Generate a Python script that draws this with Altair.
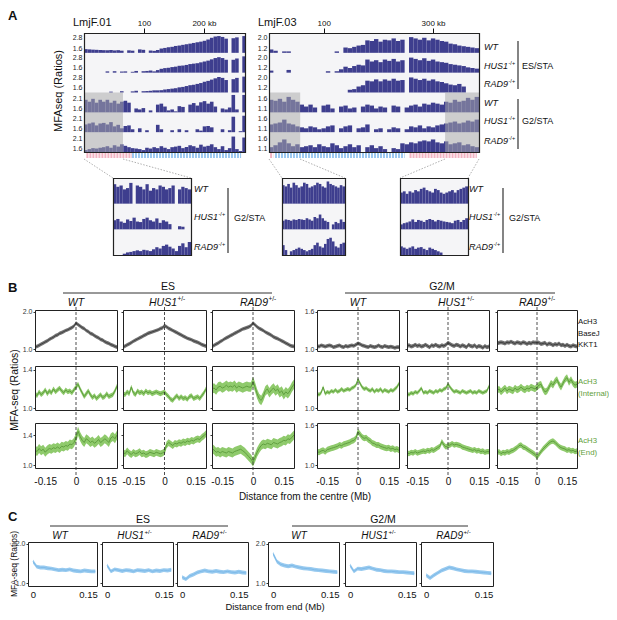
import altair as alt
import pandas as pd

FONT = "Liberation Sans"
CW, CH = 601, 604
MARGIN = 8

# ---------------- Panel A data (MFA-seq ratios per genomic bin) ----------------
A01_BIN_KB = 6
A01_ES_WT = [1.48,1.45,1.42,1.40,1.38, 1.36,1.35,1.38,1.33,1.36, 1.30,1.05,1.34,1.30,1.05, 1.45,1.40,1.05,1.32,1.28,
             1.38,1.55,1.62,1.70,1.75, 1.85,1.90,1.98,2.05,2.12, 2.20,2.28,2.35,2.45,2.60, 2.80,2.95,3.00,2.90,2.70,
             1.05,2.75,2.85,1.05,3.00]
A01_ES_HUS1 = [1.05,1.05,1.05,1.05,1.05, 1.05,1.20,1.05,1.22,1.05, 1.18,1.20,1.05,1.15,1.25, 1.05,1.22,1.25,1.30,1.20,
               1.35,1.50,1.58,1.62,1.70, 1.75,1.85,1.88,1.95,2.05, 2.10,2.15,2.25,2.35,2.45, 2.60,2.75,2.85,2.75,2.55,
               1.05,2.55,2.70,1.05,2.95]
A01_ES_RAD9 = [1.05,1.05,1.05,1.05,1.05, 1.05,1.05,1.15,1.05,1.05, 1.20,1.05,1.05,1.18,1.25, 1.05,1.20,1.22,1.25,1.30,
               1.30,1.32,1.40,1.45,1.50, 1.55,1.65,1.70,1.80,1.90, 1.95,2.05,2.15,2.30,2.40, 2.55,2.70,2.85,2.75,2.50,
               1.05,2.60,2.75,1.05,2.90]
A01_G2_WT = [2.05,1.95,2.10,1.90,2.05, 1.95,2.05,1.90,2.00,1.85, 1.95,2.00,1.90,1.40,1.60, 1.55,1.62,1.40,1.50,1.40,
             1.80,1.85,1.70,1.50,1.55, 1.45,1.72,1.68,1.40,1.80, 1.88,1.75,1.92,1.98,1.85, 1.95,1.70,1.40,1.60,1.55,
             1.65,2.30,1.55,1.40,2.30]
A01_G2_HUS1 = [1.80,1.85,1.90,1.75,1.85, 1.88,1.80,1.92,1.70,1.78, 1.60,1.72,1.75,1.55,1.40, 1.60,1.40,1.50,1.40,1.40,
               1.78,1.55,1.40,1.40,1.50, 1.40,1.55,1.40,1.50,1.40, 1.40,1.55,1.48,1.70,1.72, 1.65,1.40,1.40,1.55,1.40,
               1.50,2.20,1.40,1.45,2.25]
A01_G2_RAD9 = [1.50,1.55,1.60,1.58,1.62, 1.65,1.70,1.62,1.75,1.68, 1.80,1.72,1.65,1.60,1.58, 1.55,1.50,1.62,1.58,1.65,
               1.60,1.70,1.62,1.55,1.65, 1.68,1.72,1.60,1.66,1.75, 1.70,1.62,1.78,1.68,1.72, 1.80,1.65,1.55,1.70,1.50,
               1.60,2.20,1.55,1.45,2.15]

A03_BIN_KB = 8
A03_ES_WT = [1.10,1.00,0.84,0.95,0.95,0.84, 0.84,0.84,0.84,0.84,0.84,0.84, 0.84,0.84,0.84,0.95,0.84,1.25,
             1.20,1.30,1.40,1.45,1.80,1.75, 1.90,1.70,1.85,1.80,1.95,1.75, 1.85,0.84,2.05,1.95,1.85,2.00,
             1.80,1.95,1.85,1.75,1.70,1.55, 1.50,1.40,1.35,1.30,1.25,1.20]
A03_ES_HUS1 = [1.00,0.84,0.84,0.84,1.05,0.84, 0.84,0.84,0.84,0.84,0.84,0.84, 0.84,0.95,0.84,0.95,1.10,1.30,
               1.20,1.35,1.45,1.40,1.85,1.70, 1.80,1.65,1.85,1.75,1.90,1.70, 1.80,0.84,2.00,1.90,1.80,1.95,
               1.75,1.85,1.70,1.65,1.60,1.50, 1.45,1.40,1.35,1.25,1.20,1.15]
A03_ES_RAD9 = [0.84,0.84,0.84,0.84,0.84,0.84, 0.84,0.84,0.84,0.84,0.84,0.84, 0.84,0.84,0.84,0.84,0.84,0.84,
               1.05,1.10,1.30,1.40,1.75,1.70, 1.85,1.70,1.85,1.75,1.90,1.75, 1.80,0.84,2.00,1.90,1.80,1.90,
               1.75,1.85,1.70,1.65,1.55,1.45, 1.40,1.50,1.30,0.84,0.84,0.84]
A03_G2_WT = [1.55,1.50,1.60,1.45,1.70,1.55, 1.45,1.30,1.20,1.30,1.15,0.90, 1.25,1.30,1.10,0.90,1.20,1.25,
             1.10,1.15,0.90,1.20,1.30,1.25, 1.10,1.20,1.15,0.90,1.25,1.20, 0.90,1.15,1.25,1.30,1.20,1.35,
             1.30,1.40,1.35,1.30,1.45,1.40, 1.55,1.45,1.50,1.65,1.55,1.70]
A03_G2_HUS1 = [1.30,1.35,1.40,1.55,1.35,1.30, 1.20,1.15,1.10,1.20,1.15,1.05, 1.10,1.20,1.25,0.90,1.10,1.20,
               1.25,0.90,1.10,1.15,1.30,0.90, 1.05,1.10,0.90,1.05,1.15,1.10, 0.90,1.05,1.20,1.15,1.25,1.10,
               1.20,1.15,1.25,1.30,1.35,1.40, 1.45,1.35,1.40,1.50,1.45,1.55]
A03_G2_RAD9 = [1.15,1.25,1.40,1.55,1.35,1.20, 1.30,1.15,1.20,1.25,1.15,1.30, 1.20,1.15,1.35,1.25,1.10,1.20,
               1.30,1.15,1.25,0.90,1.15,1.25, 1.10,1.20,1.05,0.90,1.10,1.05, 1.35,1.30,1.40,1.35,1.45,1.50,
               1.45,1.55,1.40,1.35,1.45,1.30, 1.35,1.40,1.25,1.30,1.20,1.15]

# shaded (zoomed) regions, kb
GRAY_01 = [(0, 65)]
GRAY_03 = [(0, 57), (322, 384)]
# strand segments below tracks (kb start, kb end, strand)
STRAND_01 = [(4, 80, "+"), (80, 262, "-")]
STRAND_03 = [(2, 8, "+"), (11, 248, "-"), (257, 380, "+")]

# insets (G2/STA zoom of shaded regions)
INSET1_KB = (0, 65)
INSET1_WT = [2.15,2.05,2.10,1.95,2.00, 2.20,1.40,2.10,2.05,1.95, 2.15,1.90,2.00,1.95,2.10, 2.05,1.95,2.00,2.10,1.40, 1.95,2.05,2.00,1.95]
INSET1_HUS1 = [1.75,1.80,1.70,1.65,1.78, 1.72,1.85,1.70,1.68,1.80, 1.85,1.75,1.70,1.82,1.65, 1.75,1.70,1.60,1.40,1.40, 1.52,1.50,1.40,1.40]
INSET1_RAD9 = [1.40,1.40,1.40,1.45,1.50, 1.52,1.55,1.58,1.55,1.60, 1.58,1.55,1.62,1.70,1.65, 1.75,1.80,1.72,1.65,1.55, 1.75,1.85,1.70,1.90]
INSET2_KB = (0, 57)
INSET2_WT = [1.65,1.60,1.70,1.55,1.75, 1.65,1.55,1.60,1.75,1.70, 1.55,1.60,1.65,1.75,1.70, 1.60,1.55,1.80,1.70,1.65, 1.60,1.55,1.65,1.60]
INSET2_HUS1 = [1.25,1.30,1.28,1.25,1.30, 1.28,1.32,1.30,1.28,1.35, 1.30,1.25,1.40,1.35,1.50, 1.35,1.25,1.20,0.90,1.10, 1.20,1.15,1.30,1.20]
INSET2_RAD9 = [1.30,1.10,0.90,1.05,1.10, 1.15,1.20,1.15,1.10,1.05, 1.10,1.15,1.30,1.40,1.25, 1.20,1.35,1.55,1.60,1.45, 1.25,1.20,1.35,1.40]
INSET3_KB = (322, 384)
INSET3_WT = [1.35,1.40,1.30,1.40,1.35, 1.45,1.40,1.50,1.55,1.45, 1.40,1.35,1.50,1.45,1.35, 1.30,1.35,1.40,1.45,1.35, 1.45,1.50,1.55,1.60]
INSET3_HUS1 = [1.10,1.15,1.18,1.22,1.30, 1.20,1.28,1.25,1.20,1.28, 1.32,1.28,1.22,1.28,1.25, 1.22,1.20,1.18,1.15,1.25, 1.28,1.20,1.28,1.35]
INSET3_RAD9 = [1.25,1.20,1.15,1.20,1.25, 1.15,1.20,1.22,1.15,1.10, 1.20,1.15,1.10,1.05,1.00, 0.90,0.90,0.90,0.90,0.90, 0.90,0.90,0.90,0.90]

# ---------------- Panel B data ----------------
XB = [-0.20,-0.19,-0.18,-0.17,-0.16,-0.15,-0.14,-0.13,-0.12,-0.11,-0.10,-0.09,-0.08,-0.07,-0.06,-0.05,-0.04,-0.03,-0.02,-0.01,
      0.00,0.01,0.02,0.03,0.04,0.05,0.06,0.07,0.08,0.09,0.10,0.11,0.12,0.13,0.14,0.15,0.16,0.17,0.18,0.19,0.20]
B_R1_ES_WT = [1.05,1.07,1.10,1.13,1.16,1.19,1.22,1.26,1.29,1.32, 1.36,1.38,1.42,1.44,1.47,1.50,1.52,1.55,1.58,1.62, 1.70,
              1.66,1.62,1.58,1.55,1.50,1.47,1.42,1.40,1.36,1.33, 1.30,1.26,1.24,1.20,1.17,1.15,1.12,1.10,1.07,1.05]
B_R1_ES_HUS1 = [1.05,1.08,1.11,1.14,1.17,1.21,1.24,1.27,1.30,1.33, 1.36,1.39,1.42,1.44,1.46,1.48,1.50,1.52,1.55,1.57, 1.63,
                1.60,1.56,1.53,1.50,1.47,1.44,1.41,1.38,1.35,1.32, 1.29,1.27,1.25,1.22,1.20,1.18,1.15,1.12,1.10,1.08]
B_R1_ES_RAD9 = [1.07,1.10,1.13,1.16,1.20,1.23,1.27,1.30,1.33,1.36, 1.39,1.42,1.45,1.48,1.51,1.54,1.56,1.58,1.60,1.63, 1.70,
                1.65,1.60,1.56,1.53,1.50,1.46,1.43,1.40,1.37,1.33, 1.30,1.28,1.25,1.22,1.19,1.16,1.13,1.10,1.08,1.07]
B_R1_G2_WT = [1.05,1.04,1.06,1.05,1.04,1.05,1.06,1.05,1.03,1.04, 1.05,1.06,1.04,1.03,1.05,1.04,1.05,1.06,1.05,1.07, 1.09,
              1.08,1.06,1.05,1.04,1.03,1.05,1.04,1.03,1.04,1.06, 1.04,1.03,1.05,1.04,1.03,1.04,1.03,1.02,1.03,1.03]
B_R1_G2_HUS1 = [1.05,1.06,1.04,1.05,1.07,1.05,1.06,1.04,1.05,1.07, 1.05,1.03,1.06,1.05,1.07,1.05,1.04,1.06,1.05,1.07, 1.10,
                1.08,1.06,1.05,1.07,1.06,1.04,1.06,1.05,1.03,1.07, 1.05,1.04,1.06,1.03,1.05,1.04,1.02,1.05,1.03,1.04]
B_R1_G2_RAD9 = [1.09,1.10,1.11,1.10,1.09,1.11,1.10,1.12,1.10,1.09, 1.11,1.10,1.09,1.11,1.10,1.08,1.10,1.09,1.11,1.10, 1.11,
                1.10,1.08,1.09,1.10,1.07,1.09,1.08,1.06,1.08,1.07, 1.09,1.06,1.07,1.05,1.07,1.05,1.04,1.06,1.05,1.04]
B_R2_ES_WT = [1.15,1.13,1.17,1.14,1.16,1.19,1.15,1.18,1.16,1.20, 1.17,1.19,1.21,1.18,1.16,1.19,1.17,1.18,1.16,1.19, 1.22,
              1.25,1.20,1.16,1.12,1.15,1.18,1.14,1.11,1.13,1.10, 1.12,1.14,1.11,1.12,1.15,1.12,1.13,1.14,1.18,1.23]
B_R2_ES_HUS1 = [1.15,1.14,1.17,1.15,1.22,1.16,1.14,1.18,1.16,1.17, 1.15,1.18,1.16,1.17,1.15,1.16,1.17,1.16,1.15,1.16, 1.17,
                1.14,1.12,1.09,1.08,1.11,1.13,1.10,1.12,1.10,1.11, 1.09,1.12,1.13,1.10,1.11,1.12,1.10,1.13,1.16,1.20]
B_R2_ES_RAD9 = [1.20,1.21,1.19,1.22,1.23,1.21,1.22,1.24,1.22,1.23, 1.22,1.24,1.21,1.23,1.22,1.21,1.22,1.23,1.22,1.22, 1.28,
                1.22,1.15,1.10,1.08,1.12,1.18,1.20,1.16,1.19,1.21, 1.18,1.20,1.16,1.18,1.14,1.17,1.15,1.18,1.22,1.25]
B_R2_G2_WT = [1.15,1.14,1.16,1.22,1.15,1.17,1.16,1.18,1.17,1.19, 1.17,1.18,1.20,1.18,1.19,1.20,1.19,1.21,1.22,1.24, 1.30,
              1.26,1.22,1.20,1.21,1.19,1.18,1.20,1.17,1.19,1.18, 1.20,1.17,1.19,1.18,1.17,1.19,1.18,1.20,1.22,1.26]
B_R2_G2_HUS1 = [1.15,1.14,1.16,1.15,1.17,1.16,1.18,1.21,1.16,1.17, 1.16,1.18,1.17,1.16,1.18,1.17,1.19,1.18,1.20,1.21, 1.25,
                1.22,1.19,1.17,1.18,1.17,1.16,1.18,1.17,1.16,1.17, 1.18,1.16,1.17,1.16,1.18,1.17,1.16,1.17,1.18,1.23]
B_R2_G2_RAD9 = [1.18,1.20,1.17,1.19,1.21,1.18,1.20,1.19,1.18,1.21, 1.19,1.20,1.22,1.20,1.19,1.21,1.20,1.22,1.21,1.20, 1.22,
                1.24,1.25,1.20,1.17,1.18,1.22,1.26,1.24,1.28,1.30, 1.25,1.22,1.26,1.30,1.32,1.27,1.30,1.26,1.24,1.25]
B_R3_ES_WT = [1.20,1.18,1.22,1.19,1.21,1.17,1.20,1.22,1.21,1.23, 1.22,1.24,1.22,1.25,1.24,1.26,1.25,1.28,1.27,1.30, 1.36,
              1.45,1.38,1.33,1.30,1.35,1.33,1.30,1.32,1.29,1.31, 1.34,1.30,1.32,1.35,1.33,1.30,1.36,1.38,1.35,1.40]
B_R3_ES_HUS1 = [1.17,1.15,1.19,1.16,1.14,1.17,1.15,1.16,1.18,1.15, 1.16,1.14,1.15,1.17,1.16,1.15,1.17,1.16,1.15,1.16, 1.18,
                1.27,1.30,1.28,1.26,1.29,1.28,1.30,1.29,1.31,1.30, 1.32,1.31,1.33,1.32,1.34,1.35,1.34,1.37,1.39,1.42]
B_R3_ES_RAD9 = [1.22,1.20,1.17,1.18,1.16,1.18,1.17,1.16,1.18,1.17, 1.16,1.18,1.19,1.20,1.21,1.19,1.17,1.14,1.11,1.08, 1.04,
                1.10,1.17,1.22,1.26,1.28,1.27,1.29,1.28,1.27,1.30, 1.29,1.28,1.30,1.31,1.33,1.32,1.35,1.34,1.37,1.40]
B_R3_G2_WT = [1.20,1.19,1.21,1.22,1.20,1.23,1.24,1.25,1.26,1.27, 1.28,1.30,1.29,1.31,1.32,1.33,1.34,1.36,1.37,1.40, 1.50,
              1.46,1.42,1.40,1.41,1.38,1.36,1.33,1.32,1.30,1.30, 1.28,1.27,1.26,1.25,1.26,1.24,1.25,1.23,1.24,1.22]
B_R3_G2_HUS1 = [1.18,1.17,1.19,1.18,1.20,1.18,1.19,1.20,1.21,1.20, 1.22,1.21,1.23,1.22,1.24,1.26,1.28,1.35,1.30,1.27, 1.29,
                1.30,1.32,1.30,1.31,1.30,1.29,1.27,1.26,1.25,1.24, 1.23,1.22,1.23,1.21,1.22,1.20,1.21,1.19,1.20,1.20]
B_R3_G2_RAD9 = [1.18,1.20,1.17,1.19,1.18,1.20,1.19,1.21,1.22,1.24, 1.26,1.29,1.30,1.27,1.26,1.24,1.22,1.20,1.18,1.16, 1.12,
                1.16,1.20,1.24,1.27,1.30,1.33,1.35,1.36,1.34,1.31, 1.28,1.26,1.25,1.24,1.22,1.23,1.21,1.22,1.20,1.21]
# half-width of the shaded confidence band for each panel (rows x [ES WT, HUS1, RAD9, G2 WT, HUS1, RAD9])
B_BAND = [[0.05, 0.05, 0.05, 0.03, 0.032, 0.032],
          [0.025, 0.025, 0.05, 0.02, 0.02, 0.035],
          [0.06, 0.045, 0.06, 0.045, 0.04, 0.04]]

# ---------------- Panel C data ----------------
XC = [0.00,0.01,0.02,0.03,0.04,0.05,0.06,0.07,0.08,0.09,0.10,0.11,0.12,0.13,0.14,0.15,0.16,0.17]
C_ES_WT = [1.55,1.42,1.40,1.40,1.38,1.37,1.35,1.33,1.34,1.33,1.35,1.32,1.31,1.30,1.32,1.31,1.30,1.30]
C_ES_HUS1 = [1.45,1.30,1.35,1.33,1.31,1.33,1.32,1.30,1.33,1.32,1.31,1.33,1.30,1.32,1.31,1.33,1.32,1.34]
C_ES_RAD9 = [1.15,1.10,1.18,1.22,1.27,1.30,1.32,1.30,1.29,1.31,1.29,1.28,1.30,1.28,1.27,1.29,1.27,1.26]
C_G2_WT = [1.75,1.55,1.48,1.45,1.43,1.45,1.42,1.40,1.38,1.37,1.36,1.34,1.33,1.32,1.31,1.30,1.29,1.28]
C_G2_HUS1 = [1.45,1.30,1.37,1.36,1.38,1.40,1.37,1.34,1.33,1.31,1.30,1.30,1.29,1.28,1.28,1.27,1.26,1.25]
C_G2_RAD9 = [1.20,1.13,1.20,1.26,1.32,1.36,1.40,1.38,1.35,1.33,1.31,1.30,1.30,1.29,1.28,1.27,1.26,1.25]
C_BAND = 0.05

# ---------------- styling ----------------
NAVY = "#3e3e8e"
TRACK_BG = "#f5f5f7"
GRAY_LINE, GRAY_BAND = "#3a3a3a", "#737373"
GREEN_LINE, GREEN_BAND = "#5a9a3a", "#8fca6c"
GREEN_TXT = "#5fa03c"
BLUE_LINE, BLUE_BAND = "#7ab8e8", "#98caef"
TXT = "#111111"

ONE = pd.DataFrame({"k": [0]})


def P(v):
    return v - MARGIN


def xscale(dom, a, b):
    return alt.Scale(domain=list(dom), range=[P(a), P(b)], nice=False, zero=False)


def yscale(dom, top, bottom):
    return alt.Scale(domain=list(dom), range=[P(bottom), P(top)], nice=False, zero=False, clamp=True)


def label(x, y, s, size=9, align="center", baseline="middle", color=TXT, style="normal", weight="normal", angle=0):
    kw = dict(text=s, font=FONT, fontSize=size, align=align, baseline=baseline, color=color,
              fontStyle=style, fontWeight=weight)
    if angle:
        kw["angle"] = angle
    return alt.Chart(ONE).mark_text(**kw).encode(x=alt.value(P(x)), y=alt.value(P(y)))


def suplabel(x_end, y, main, sup, size, color=TXT):
    return [label(x_end, y, main, size, align="right", style="italic", color=color),
            label(x_end + 0.5, y - size * 0.38, sup, size * 0.62, align="left", color=color)]


def rule(x, y, x2, y2, color=TXT, width=1.0, dash=None):
    kw = dict(color=color, strokeWidth=width)
    if dash:
        kw["strokeDash"] = dash
    return alt.Chart(ONE).mark_rule(**kw).encode(
        x=alt.value(P(x)), y=alt.value(P(y)), x2=alt.value(P(x2)), y2=alt.value(P(y2)))


def box(x0, y0, x1, y1, fill=None, stroke=None, sw=1.0):
    kw = {}
    if fill:
        kw["fill"] = fill
    else:
        kw["fillOpacity"] = 0
    if stroke:
        kw["stroke"] = stroke
        kw["strokeWidth"] = sw
    return alt.Chart(ONE).mark_rect(**kw).encode(
        x=alt.value(P(x0)), y=alt.value(P(y0)), x2=alt.value(P(x1)), y2=alt.value(P(y1)))


def track(vals, start_kb, bin_kb, xdom, xa, xb, ydom, ya, yb, ylab=None, top=None):
    s = [start_kb + i * bin_kb for i in range(len(vals))]
    df = pd.DataFrame({"s": s, "e": [v + bin_kb for v in s], "v": vals})
    if ylab:
        yax = alt.Axis(orient="left", values=ylab, offset=-P(xa), ticks=False, domain=False, grid=False,
                       labelFont=FONT, labelFontSize=7, labelColor="#222", labelPadding=2, format=".1f",
                       title=None, labelOverlap=False)
    else:
        yax = None
    return alt.Chart(df).mark_rect(color=NAVY).encode(
        x=alt.X("s:Q", scale=xscale(xdom, xa, xb), axis=top),
        x2="e",
        y=alt.Y("v:Q", scale=yscale(ydom, ya, yb), axis=yax),
        y2=alt.datum(ydom[0]),
    )


def top_axis(values, unit_val, y):
    return alt.Axis(orient="top", values=values, offset=-P(y), tickSize=5, tickColor=TXT, tickWidth=1,
                    domain=False, grid=False, labelFont=FONT, labelFontSize=8, labelColor=TXT, labelPadding=1,
                    format="d", title=None, labelFlush=False, labelOverlap=False,
                    labelExpr=f"datum.value == {unit_val} ? datum.label + ' kb' : datum.label")


def overlay(regions, xdom, xa, xb, ya, yb):
    df = pd.DataFrame({"s": [r[0] for r in regions], "e": [r[1] for r in regions]})
    return alt.Chart(df).mark_rect(color="#a8a8a8", opacity=0.52).encode(
        x=alt.X("s:Q", scale=xscale(xdom, xa, xb), axis=None), x2="e",
        y=alt.value(P(ya)), y2=alt.value(P(yb)))


def strand_strip(segs, xdom, xa, xb, y):
    df = pd.DataFrame({"s": [g[0] for g in segs], "e": [g[1] for g in segs], "strand": [g[2] for g in segs]})
    return alt.Chart(df).mark_rule(strokeWidth=5, strokeDash=[2, 1]).encode(
        x=alt.X("s:Q", scale=xscale(xdom, xa, xb), axis=None), x2="e", y=alt.value(P(y)),
        color=alt.Color("strand:N", scale=alt.Scale(domain=["+", "-"], range=["#f2b3c2", "#9cc8f0"]), legend=None))


def curve_panel(xv, mean, half, xdom, bx, ydom, yvals, ylabels, line_c, band_c, xaxis=None, zero=None):
    """Returns a list of flat (unit) layers for one small-multiple panel."""
    x0, x1, y0, y1 = bx
    df = pd.DataFrame({"x": xv, "m": mean})
    df["lo"] = df["m"] - half
    df["hi"] = df["m"] + half
    yax = alt.Axis(orient="left", values=yvals, offset=-P(x0), tickSize=2, tickColor="#333", domain=False,
                   grid=False, labels=ylabels, labelFont=FONT, labelFontSize=7, labelColor="#333",
                   labelPadding=1, format=".1f", title=None, labelOverlap=False)
    band = alt.Chart(df).mark_area(color=band_c, opacity=1).encode(
        x=alt.X("x:Q", scale=xscale(xdom, x0, x1), axis=xaxis),
        y=alt.Y("lo:Q", scale=yscale(ydom, y0, y1), axis=yax), y2="hi")
    line = alt.Chart(df).mark_line(color=line_c, strokeWidth=0.9).encode(
        x=alt.X("x:Q", scale=xscale(xdom, x0, x1), axis=None),
        y=alt.Y("m:Q", scale=yscale(ydom, y0, y1), axis=None))
    parts = [band, line]
    if zero:
        parts.append(alt.Chart(ONE).mark_rule(color="#222", strokeWidth=0.8, strokeDash=[3, 2]).encode(
            x=alt.XDatum(0, scale=xscale(xdom, x0, x1), axis=None),
            y=alt.value(P(zero[0])), y2=alt.value(P(zero[1]))))
    parts.append(box(x0 + 0.5, y0 + 0.5, x1 + 0.5, y1 + 0.5, stroke="#222", sw=1))
    return parts


def bottom_axis(values, ybottom, pad, expr, size=10):
    return alt.Axis(orient="bottom", values=values, offset=P(ybottom) - CH, ticks=False, domain=False,
                    grid=False, labelFont=FONT, labelFontSize=size, labelColor=TXT, labelPadding=pad,
                    labelExpr=expr, title=None, labelFlush=False, labelOverlap=False)


layers = []

# =============================== PANEL A ===============================
A_TOP, A_BOT = 33, 152
TH = (A_BOT - A_TOP) / 6
B1 = (84, 245, (0, 268.5))
B2 = (269, 479, (0, 384))

layers.append(box(B1[0], A_TOP, B1[1], A_BOT, fill=TRACK_BG))
layers.append(box(B2[0], A_TOP, B2[1], A_BOT, fill=TRACK_BG))

tracks01 = [(A01_ES_WT, (1.05, 3.24), [1.6, 2.8]), (A01_ES_HUS1, (1.05, 3.24), [1.6, 2.8]),
            (A01_ES_RAD9, (1.05, 3.24), [1.6, 2.8]), (A01_G2_WT, (1.4, 2.375), [1.6, 2.1]),
            (A01_G2_HUS1, (1.4, 2.375), [1.6, 2.1]), (A01_G2_RAD9, (1.4, 2.375), [1.6, 2.1])]
tracks03 = [(A03_ES_WT, (0.84, 2.29), [1.2, 2.0]), (A03_ES_HUS1, (0.84, 2.29), [1.2, 2.0]),
            (A03_ES_RAD9, (0.84, 2.29), [1.2, 2.0]), (A03_G2_WT, (0.9, 1.875), [1.1, 1.6]),
            (A03_G2_HUS1, (0.9, 1.875), [1.1, 1.6]), (A03_G2_RAD9, (0.9, 1.875), [1.1, 1.6])]
for k, (vals, ydom, ylab) in enumerate(tracks01):
    ya, yb = A_TOP + k * TH, A_TOP + (k + 1) * TH
    layers.append(track(vals, 0, A01_BIN_KB, B1[2], B1[0], B1[1], ydom, ya + 1, yb, ylab,
                        top_axis([100, 200], 200, A_TOP) if k == 0 else None))
for k, (vals, ydom, ylab) in enumerate(tracks03):
    ya, yb = A_TOP + k * TH, A_TOP + (k + 1) * TH
    layers.append(track(vals, 0, A03_BIN_KB, B2[2], B2[0], B2[1], ydom, ya + 1, yb, ylab,
                        top_axis([100, 300], 300, A_TOP) if k == 0 else None))

layers.append(overlay(GRAY_01, B1[2], B1[0], B1[1], A_TOP + 3 * TH, A_BOT))
layers.append(overlay(GRAY_03, B2[2], B2[0], B2[1], A_TOP + 3 * TH, A_BOT))
layers.append(box(B1[0] + 0.5, A_TOP + 0.5, B1[1] + 0.5, A_BOT + 0.5, stroke="#222", sw=1.2))
layers.append(box(B2[0] + 0.5, A_TOP + 0.5, B2[1] + 0.5, A_BOT + 0.5, stroke="#222", sw=1.2))
layers.append(strand_strip(STRAND_01, B1[2], B1[0], B1[1], 155.5))
layers.append(strand_strip(STRAND_03, B2[2], B2[0], B2[1], 155.5))

# connectors to insets
for (xa, xb) in [(84, 113), (123, 191), (269, 282), (300, 345), (445, 400), (479, 468)]:
    layers.append(rule(xa, 159, xb, 178, color="#9a9a9a", width=0.8, dash=[1.5, 1.5]))

# insets
I_TOP, I_BOT = 178, 255
ITH = (I_BOT - I_TOP) / 3
insets = [((113, 191), INSET1_KB, (1.4, 2.35), [INSET1_WT, INSET1_HUS1, INSET1_RAD9]),
          ((282, 345), INSET2_KB, (0.9, 1.9), [INSET2_WT, INSET2_HUS1, INSET2_RAD9]),
          ((400, 468), INSET3_KB, (0.9, 1.9), [INSET3_WT, INSET3_HUS1, INSET3_RAD9])]
for (xa, xb), kb, ydom, series in insets:
    layers.append(box(xa, I_TOP, xb, I_BOT, fill=TRACK_BG))
    binw = (kb[1] - kb[0]) / len(series[0])
    for k, vals in enumerate(series):
        layers.append(track(vals, kb[0], binw, kb, xa, xb, ydom, I_TOP + k * ITH + 1, I_TOP + (k + 1) * ITH))
    layers.append(box(xa + 0.5, I_TOP + 0.5, xb + 0.5, I_BOT + 0.5, stroke="#222", sw=1.2))

# panel A text
layers.append(label(8, 16, "A", 13, align="left", weight="bold"))
layers.append(label(73, 23, "LmjF.01", 11, align="left"))
layers.append(label(258, 23, "LmjF.03", 11, align="left"))
layers.append(label(59, 91, "MFAseq (Ratios)", 11, angle=270))
for yy, nm in [(47, "WT"), (66, "HUS1"), (84, "RAD9"), (103, "WT"), (121, "HUS1"), (141, "RAD9")]:
    if nm == "WT":
        layers.append(label(484, yy, "WT", 9, align="left", style="italic"))
    else:
        layers += suplabel(484 + 24, yy, nm, "-/+", 9)
layers.append(rule(518, 41, 518, 89, color="#333", width=1.2))
layers.append(rule(518, 99, 518, 149, color="#333", width=1.2))
layers.append(label(522, 66, "ES/STA", 9, align="left"))
layers.append(label(522, 121, "G2/STA", 9, align="left"))
for lx, bxr in [(194, 228), (469, 503)]:
    layers.append(label(lx, 189, "WT", 9, align="left", style="italic"))
    layers += suplabel(lx + 24, 217, "HUS1", "-/+", 9)
    layers += suplabel(lx + 24, 247, "RAD9", "-/+", 9)
    layers.append(rule(bxr, 188, bxr, 253, color="#333", width=1.2))
    layers.append(label(bxr + 6, 218, "G2/STA", 9, align="left"))

# =============================== PANEL B ===============================
B_COLS = [(35, 117), (123, 206), (212, 294), (317, 399), (407, 489), (497, 577)]
B_ROWS = [(310, 351), (366, 410), (423, 468)]
B_YDOM = [[(0.946, 2.054)] * 3 + [(0.968, 1.632)] * 3,
          [(0.979, 1.442)] * 6,
          [(0.96, 1.56)] * 3 + [(0.955, 1.63)] * 3]
B_YTICKS = [[[1.0, 2.0]] * 3 + [[1.0, 1.6]] * 3,
            [[1.0, 1.4]] * 6,
            [[1.0, 1.4]] * 3 + [[1.0, 1.6]] * 3]
B_DATA = [[B_R1_ES_WT, B_R1_ES_HUS1, B_R1_ES_RAD9, B_R1_G2_WT, B_R1_G2_HUS1, B_R1_G2_RAD9],
          [B_R2_ES_WT, B_R2_ES_HUS1, B_R2_ES_RAD9, B_R2_G2_WT, B_R2_G2_HUS1, B_R2_G2_RAD9],
          [B_R3_ES_WT, B_R3_ES_HUS1, B_R3_ES_RAD9, B_R3_G2_WT, B_R3_G2_HUS1, B_R3_G2_RAD9]]
B_EXPR = "datum.value == 0 ? '0' : (datum.value < 0 ? '-' : '') + format(abs(datum.value), '.2f')"
for r in range(3):
    for c in range(6):
        x0, x1 = B_COLS[c]
        y0, y1 = B_ROWS[r]
        lc, bc = (GRAY_LINE, GRAY_BAND) if r == 0 else (GREEN_LINE, GREEN_BAND)
        xa = bottom_axis([-0.15, 0, 0.15], y1, 8, B_EXPR) if r == 2 else None
        zero = (307, 475) if r == 2 else None
        layers += curve_panel(XB, B_DATA[r][c], B_BAND[r][c], (-0.2, 0.2), (x0, x1, y0, y1),
                              B_YDOM[r][c], B_YTICKS[r][c], c in (0, 3), lc, bc, xa, zero)

layers.append(label(8, 288, "B", 13, align="left", weight="bold"))
layers.append(label(168, 287, "ES", 10.5))
layers.append(label(442, 287, "G2/M", 10.5))
layers.append(rule(63, 293, 272, 293, color="#333", width=1))
layers.append(rule(345, 293, 555, 293, color="#333", width=1))
layers.append(label(76, 303, "WT", 10.5, style="italic"))
layers += suplabel(177, 303, "HUS1", "+/-", 10.5)
layers += suplabel(268, 303, "RAD9", "+/-", 10.5)
layers.append(label(358, 303, "WT", 10.5, style="italic"))
layers += suplabel(466, 303, "HUS1", "+/-", 10.5)
layers += suplabel(547, 303, "RAD9", "+/-", 10.5)
layers.append(label(578, 322, "AcH3", 7.8, align="left"))
layers.append(label(578, 334, "BaseJ", 7.8, align="left"))
layers.append(label(578, 345, "KKT1", 7.8, align="left"))
layers.append(label(578, 382, "AcH3", 7.8, align="left", color=GREEN_TXT))
layers.append(label(578, 394, "(Internal)", 7.8, align="left", color=GREEN_TXT))
layers.append(label(578, 441, "AcH3", 7.8, align="left", color=GREEN_TXT))
layers.append(label(578, 453, "(End)", 7.8, align="left", color=GREEN_TXT))
layers.append(label(305, 497, "Distance from the centre (Mb)", 10))
layers.append(label(15, 390, "MFA-seq (Ratios)", 10.5, angle=270))

# =============================== PANEL C ===============================
C_COLS = [(28, 97), (102, 173), (177, 248), (268, 339), (345, 416), (421, 493)]
C_ROW = (542, 586)
C_DATA = [C_ES_WT, C_ES_HUS1, C_ES_RAD9, C_G2_WT, C_G2_HUS1, C_G2_RAD9]
C_EXPR = "datum.value == 0 ? '0' : format(datum.value, '.2f')"
for c in range(6):
    x0, x1 = C_COLS[c]
    layers += curve_panel(XC, C_DATA[c], C_BAND, (-0.0136, 0.1745), (x0, x1, C_ROW[0], C_ROW[1]),
                          (0.925, 2.05), [1.0, 2.0], c in (0, 3), BLUE_LINE, BLUE_BAND,
                          bottom_axis([0, 0.15], C_ROW[1], 3, C_EXPR, 9.5))

layers.append(label(8, 517, "C", 13, align="left", weight="bold"))
layers.append(label(143, 520, "ES", 10.5))
layers.append(label(383, 520, "G2/M", 10.5))
layers.append(rule(50, 526, 228, 526, color="#333", width=1))
layers.append(rule(292, 526, 468, 526, color="#333", width=1))
layers.append(label(60, 536, "WT", 10, style="italic"))
layers += suplabel(144, 536, "HUS1", "+/-", 10)
layers += suplabel(219, 536, "RAD9", "+/-", 10)
layers.append(label(299, 536, "WT", 10, style="italic"))
layers += suplabel(388, 536, "HUS1", "+/-", 10)
layers += suplabel(463, 536, "RAD9", "+/-", 10)
layers.append(label(275, 611.5, "Distance from end (Mb)", 9.5, baseline="bottom"))
layers.append(label(14, 564, "MFA-seq (Ratios)", 8.5, angle=270))

chart = (
    alt.layer(*layers)
    .resolve_scale(x="independent", y="independent", color="shared")
    .properties(width=CW, height=CH, autosize=alt.AutoSizeParams(type="none"), padding=0, background="white")
    .configure_view(strokeWidth=0)
)

chart.save("out.html", embed_options={"renderer": "svg", "actions": False})
